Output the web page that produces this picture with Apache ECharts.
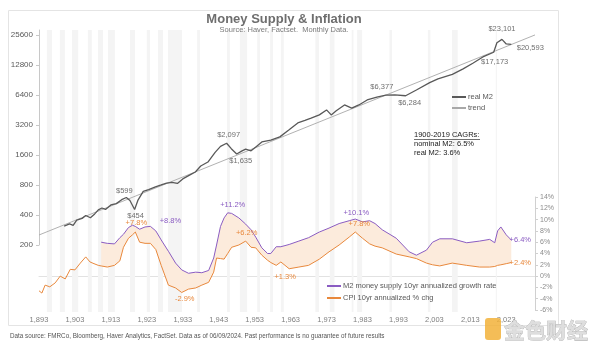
<!DOCTYPE html>
<html>
<head>
<meta charset="utf-8">
<script src="https://cdn.jsdelivr.net/npm/echarts@6/dist/echarts.min.js"></script>
<style>
html, body { margin: 0; padding: 0; background: #fff; }
#main { width: 600px; height: 350px; }
</style>
</head>
<body>
<div id="main"></div>
<script>
// values
var recessions = [[1895.2, 1896.6], [1898.8, 1900.2], [1902.2, 1903.9], [1906.6, 1907.7], [1909.4, 1910.8],
    [1912.2, 1914.1], [1918.3, 1919.7], [1923.0, 1923.9], [1926.1, 1927.5], [1928.9, 1932.8], [1937.0, 1937.8],
    [1945.3, 1946.1], [1948.9, 1950.9], [1953.7, 1954.5], [1957.3, 1958.1], [1960.3, 1961.1], [1969.9, 1970.9],
    [1973.9, 1975.2], [1980.0, 1980.5], [1981.5, 1982.9], [1990.5, 1991.2], [2001.2, 2001.9], [2007.9, 2009.5],
    [2020.1, 2020.4]];

var realM2Years = [1900, 1901.5, 1902.5, 1903.5, 1905, 1906, 1907.3, 1908.5, 1909.5, 1910.5,
    1911.5, 1913, 1914.5, 1916, 1917.3, 1918.3, 1919.6, 1920.5, 1922, 1923.5,
    1925.4, 1927, 1928.5, 1930, 1931.5, 1933, 1935, 1936.5, 1938, 1940,
    1942, 1943.5, 1945.2, 1946.5, 1948, 1949.5, 1950.5, 1952, 1953.5, 1955,
    1957.5, 1960, 1962.5, 1965, 1967, 1968.7, 1971, 1973, 1974.3, 1975.7,
    1978, 1980, 1982, 1984.3, 1987, 1989.5, 1992, 1995, 1998, 2001.7,
    2004, 2008, 2011, 2013.7, 2016.5, 2019.5, 2020.4, 2021.8, 2023, 2024.4];
var realM2 = [310, 325, 315, 356, 370, 395, 375, 410, 450, 470,
    455, 505, 520, 570, 599, 560, 454, 560, 690, 720,
    766, 800, 836, 850, 830, 920, 1010, 1080, 1240, 1360,
    1700, 1950, 2097, 1850, 1635, 1760, 1830, 1760, 1950, 2160,
    2250, 2430, 2850, 3350, 3550, 3740, 4040, 4530, 4040, 4440,
    5080, 4720, 5080, 5700, 6100, 6377, 6400, 6284, 7180, 8520,
    9290, 10300, 11700, 13300, 15400, 17173, 21400, 23101, 20800, 20593];

var trendYears = [1893, 2031];
var trend = [252, 25600];

var cpiEarlyYears = [1893, 1893.8, 1894.7, 1896, 1897.5, 1898.9, 1900.3, 1901.7, 1903, 1904.5, 1906, 1907.2, 1908.3, 1909.5];
var cpiEarly = [-2.6, -3.0, -1.6, -1.9, -1.2, 0.0, -0.5, 1.2, 1.1, 2.3, 3.4, 2.5, 2.2, 1.9];

var rateYears = [1910.3, 1912, 1914, 1915.5, 1916.5, 1917.9, 1919, 1919.8, 1921, 1922.5,
    1924, 1925.5, 1927, 1929, 1931, 1932.7, 1934.6, 1936.6, 1938.3, 1940.2,
    1941.6, 1942.4, 1943.5, 1944.5, 1945.5, 1946.6, 1948.6, 1950.5, 1952, 1953.3,
    1955, 1956.6, 1957.5, 1959, 1960.3, 1962.6, 1965.3, 1968, 1971, 1973.7,
    1976.5, 1979.3, 1981, 1983, 1985, 1986.5, 1988.5, 1992.4, 1996, 1998,
    2000.8, 2002.5, 2004.5, 2008, 2012, 2015.6, 2018.4, 2019.8, 2020.6, 2021.5,
    2023, 2024.4];
var m2Rate = [6.0, 5.8, 5.7, 6.8, 7.4, 8.6, 9.0, 8.8, 8.3, 8.7,
    8.8, 8.0, 6.4, 4.4, 2.3, 1.1, 0.5, 0.7, 0.6, 1.0,
    3.2, 5.5, 8.8, 10.3, 11.2, 11.1, 10.3, 9.2, 8.2, 6.9,
    5.0, 4.0, 4.0, 5.2, 5.2, 5.6, 6.2, 6.8, 7.8, 8.5,
    9.3, 9.8, 10.1, 9.6, 9.8, 9.3, 8.2, 6.7, 4.3, 3.7,
    4.6, 6.0, 6.6, 6.6, 5.9, 6.2, 6.5, 5.9, 8.0, 8.7,
    7.3, 6.4];
var cpiRate = [1.8, 1.6, 1.9, 2.7, 5.1, 6.7, 7.3, 7.8, 6.0, 5.8,
    5.8, 4.7, 1.9, -1.6, -2.1, -2.9, -2.3, -2.1, -1.6, -1.1,
    0.7, 3.2, 3.1, 3.0, 4.0, 5.1, 5.5, 6.2, 5.1, 5.0,
    3.7, 2.8, 2.4, 1.9, 2.5, 1.3, 1.6, 1.9, 3.0, 4.3,
    5.5, 6.9, 7.8, 6.7, 5.7, 5.3, 5.0, 3.9, 3.4, 3.1,
    2.3, 2.0, 1.8, 2.3, 1.9, 1.6, 1.6, 1.7, 1.9, 2.0,
    2.2, 2.4];

var leftTicks = [200, 400, 800, 1600, 3200, 6400, 12800, 25600];

var m2Notes = [[1917.3, 599, '$599'], [1919.6, 454, '$454'], [1945.2, 2097, '$2,097'], [1948, 1635, '$1,635'],
    [1989.5, 6377, '$6,377'], [1995, 6284, '$6,284'], [2019.5, 17173, '$17,173'], [2021.8, 23101, '$23,101'],
    [2024.4, 20593, '$20,593']];
var m2RateNotes = [[1924, 8.8, '+8.8%'], [1945.5, 11.2, '+11.2%'], [1981, 10.1, '+10.1%'], [2024.4, 6.4, '+6.4%']];
var cpiNotes = [[1919.8, 7.8, '+7.8%'], [1932.7, -2.9, '-2.9%'], [1950.5, 6.2, '+6.2%'], [1962.6, 1.3, '+1.3%'],
    [1981, 7.8, '+7.8%'], [2024.4, 2.4, '+2.4%']];

var m2Name = 'M2 money supply 10yr annualized growth rate';
var cpiName = 'CPI 10yr annualized % chg';

// ---- build the chart ----
var font = 'Liberation Sans, Arial, sans-serif';
var gray = '#595959';
var purple = '#8a5cc2';
var orange = '#e8883c';

function pairs(xs, ys) {
    return xs.map(function (x, i) { return [x, ys[i]]; });
}

// label nudges so the notes sit next to their points
var m2Offsets = [[-2, -7], [1, 6], [2, -8], [4, 7], [-4, -8], [4, 7], [1, 10], [0, -10], [19, 4]];
var m2RateOffsets = [[20, -5], [5, -8], [1, -6], [9, 0]];
var cpiOffsets = [[1, -9], [3, 6], [1, -8], [-4, 8], [4, -8], [9, 0]];

function notes(list, offsets, color) {
    return {
        symbol: 'circle',
        symbolSize: 0,
        silent: true,
        label: { show: true, color: color, fontSize: 7.5, fontFamily: font },
        data: list.map(function (n, i) {
            return { coord: [n[0], n[1]], label: { formatter: n[2], offset: offsets[i] } };
        })
    };
}

// shaded gap between the two growth-rate lines
function renderBand(params, api) {
    var upper = rateYears.map(function (y, i) { return api.coord([y, Math.max(m2Rate[i], cpiRate[i])]); });
    var lower = rateYears.map(function (y, i) { return api.coord([y, Math.min(m2Rate[i], cpiRate[i])]); });
    return {
        type: 'polygon',
        shape: { points: upper.concat(lower.reverse()) },
        style: { fill: '#fcebdc' }
    };
}

var xCommon = { type: 'value', min: 1893, max: 2031, splitLine: { show: false } };

var chart = echarts.init(document.getElementById('main'));
chart.setOption({
    animation: false,
    textStyle: { fontFamily: font },
    grid: [
        { left: 39, right: 65, top: 30, bottom: 38 },
        { left: 39, right: 65, top: 30, bottom: 105 },
        { left: 39, right: 65, top: 197, bottom: 40 }
    ],
    xAxis: [
        Object.assign({}, xCommon, {
            gridIndex: 0, interval: 10,
            axisLine: { show: false }, axisTick: { show: false },
            axisLabel: { color: '#7f7f7f', fontSize: 7.5, margin: 4, showMaxLabel: false, showMinLabel: true }
        }),
        Object.assign({}, xCommon, { gridIndex: 1, show: false }),
        Object.assign({}, xCommon, {
            gridIndex: 2,
            axisLine: { show: true, onZero: true, lineStyle: { color: '#e2e2e2', width: 1 } },
            axisTick: { show: false }, axisLabel: { show: false }
        })
    ],
    yAxis: [
        { type: 'value', gridIndex: 0, min: 0, max: 1, show: false },
        {
            type: 'log', logBase: 2, gridIndex: 1, min: 200, max: 28700,
            axisLine: { show: true, lineStyle: { color: '#c8c8c8' } },
            axisTick: { show: true, length: 3, customValues: leftTicks, lineStyle: { color: '#c8c8c8' } },
            splitLine: { show: false },
            axisLabel: {
                color: gray, fontSize: 8, margin: 6, customValues: leftTicks,
                formatter: function (v) { return String(Math.round(v)); }
            }
        },
        {
            type: 'value', gridIndex: 2, position: 'right', min: -6, max: 14, interval: 2,
            axisLine: { show: true, lineStyle: { color: '#d0d0d0' } },
            axisTick: { show: true, length: 3, lineStyle: { color: '#d0d0d0' } },
            splitLine: { show: false },
            axisLabel: { color: '#8c8c8c', fontSize: 7, margin: 5, formatter: '{value}%' }
        }
    ],
    legend: [
        {
            data: ['real M2', 'trend'], orient: 'vertical', left: 451, top: 93,
            itemWidth: 14, itemHeight: 8, itemGap: 3, padding: 0,
            itemStyle: { opacity: 0 },
            textStyle: { color: gray, fontSize: 7.5, padding: [0, 0, 0, -3] }
        },
        {
            data: [m2Name, cpiName], orient: 'vertical', left: 326, top: 282,
            itemWidth: 14, itemHeight: 8, itemGap: 4, padding: 0,
            itemStyle: { opacity: 0 },
            textStyle: { color: gray, fontSize: 7.5, padding: [0, 0, 0, -3] }
        }
    ],
    series: [
        {
            name: 'recessions', type: 'line', xAxisIndex: 0, yAxisIndex: 0, z: 0,
            data: [[1893, 0]], showSymbol: false, silent: true, lineStyle: { opacity: 0 },
            markArea: {
                silent: true,
                itemStyle: { color: '#f4f4f4' },
                data: recessions.map(function (r) { return [{ xAxis: r[0] }, { xAxis: r[1] }]; })
            }
        },
        {
            name: 'band', type: 'custom', xAxisIndex: 2, yAxisIndex: 2, z: 1, silent: true,
            data: [[rateYears[0], m2Rate[0]]],
            renderItem: renderBand
        },
        {
            name: 'trend', type: 'line', xAxisIndex: 1, yAxisIndex: 1, z: 3,
            data: pairs(trendYears, trend), symbol: 'none',
            lineStyle: { color: '#a8a8a8', width: 0.9 }, itemStyle: { color: '#a8a8a8' }
        },
        {
            name: 'real M2', type: 'line', xAxisIndex: 1, yAxisIndex: 1, z: 3,
            data: pairs(realM2Years, realM2), symbol: 'none',
            lineStyle: { color: gray, width: 1.3 }, itemStyle: { color: gray },
            markPoint: notes(m2Notes, m2Offsets, '#707070')
        },
        {
            name: cpiName, type: 'line', xAxisIndex: 2, yAxisIndex: 2, z: 3,
            data: pairs(cpiEarlyYears.concat(rateYears), cpiEarly.concat(cpiRate)), symbol: 'none',
            lineStyle: { color: orange, width: 1 }, itemStyle: { color: orange },
            markPoint: notes(cpiNotes, cpiOffsets, orange)
        },
        {
            name: m2Name, type: 'line', xAxisIndex: 2, yAxisIndex: 2, z: 3,
            data: pairs(rateYears, m2Rate), symbol: 'none',
            lineStyle: { color: purple, width: 1 }, itemStyle: { color: purple },
            markPoint: notes(m2RateNotes, m2RateOffsets, purple)
        }
    ],
    graphic: [
        {
            type: 'rect', silent: true, z: -1,
            shape: { x: 8.5, y: 10.5, width: 550, height: 315 },
            style: { fill: 'none', stroke: '#e4e4e4', lineWidth: 1 }
        },
        {
            type: 'text', x: 284, y: 19, silent: true, z: 100,
            style: { text: 'Money Supply & Inflation', fill: '#6e6e6e', font: 'bold 13px ' + font,
                align: 'center', verticalAlign: 'middle', textAlign: 'center', textVerticalAlign: 'middle' }
        },
        {
            type: 'text', x: 284, y: 30, silent: true, z: 100,
            style: { text: 'Source: Haver, Factset.  Monthly Data.', fill: '#7a7a7a', font: '7.5px ' + font,
                align: 'center', verticalAlign: 'middle', textAlign: 'center', textVerticalAlign: 'middle' }
        },
        {
            type: 'text', x: 414, y: 135, silent: true, z: 100,
            style: { text: '1900-2019 CAGRs:', fill: '#222', font: '7.5px ' + font,
                verticalAlign: 'middle', textVerticalAlign: 'middle' }
        },
        {
            type: 'line', silent: true, z: 100,
            shape: { x1: 414, y1: 139.5, x2: 480, y2: 139.5 },
            style: { stroke: '#333', lineWidth: 0.7 }
        },
        {
            type: 'text', x: 414, y: 144, silent: true, z: 100,
            style: { text: 'nominal M2: 6.5%', fill: '#222', font: '7.5px ' + font,
                verticalAlign: 'middle', textVerticalAlign: 'middle' }
        },
        {
            type: 'text', x: 414, y: 152.5, silent: true, z: 100,
            style: { text: 'real M2: 3.6%', fill: '#222', font: '7.5px ' + font,
                verticalAlign: 'middle', textVerticalAlign: 'middle' }
        },
        {
            type: 'text', x: 10, y: 336, silent: true, z: 100,
            style: { text: 'Data source: FMRCo, Bloomberg, Haver Analytics, FactSet. Data as of 06/09/2024. Past performance is no guarantee of future results',
                fill: '#555', font: '6.3px ' + font, verticalAlign: 'middle', textVerticalAlign: 'middle' }
        },
        {
            type: 'rect', silent: true, z: 100,
            shape: { x: 485, y: 318, width: 16, height: 22, r: 3 },
            style: { fill: '#f2b13a', opacity: 0.85 }
        },
        {
            type: 'text', x: 504, y: 330, silent: true, z: 100,
            style: { text: '金色财经', fill: '#dedede', stroke: '#a8a8a8', lineWidth: 0.6,
                font: 'bold 21px "Noto Sans CJK SC", sans-serif',
                verticalAlign: 'middle', textVerticalAlign: 'middle' }
        }
    ]
});
</script>
</body>
</html>
